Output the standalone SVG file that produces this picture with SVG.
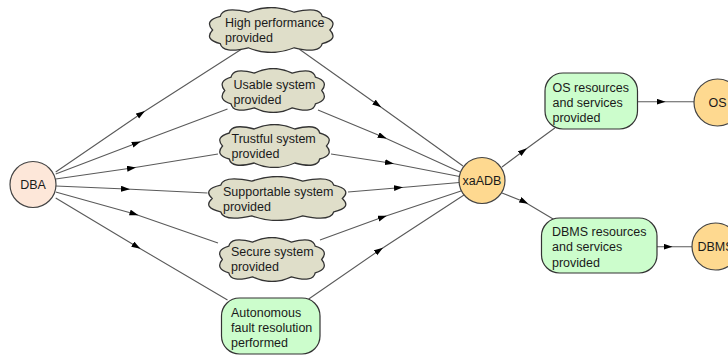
<svg xmlns="http://www.w3.org/2000/svg" xmlns:xlink="http://www.w3.org/1999/xlink" width="728" height="355" viewBox="0 0 728 355">
<style>
text{font-family:"Liberation Sans",Arial,sans-serif;font-size:12.5px;fill:#1a1a1a}
.e{fill:none;stroke:#5a5a5a;stroke-width:1.1}
.cl{fill:#dfdec9;stroke:#333;stroke-width:1.3;vector-effect:non-scaling-stroke}
.g{fill:#ccfdcc;stroke:#333;stroke-width:1.2}
.o{fill:#fed990;stroke:#444;stroke-width:1.2}
.p{fill:#fde7d9;stroke:#444;stroke-width:1.2}
.c{text-anchor:middle}
</style>
<defs>
<marker id="a" markerUnits="userSpaceOnUse" markerWidth="10" markerHeight="7" refX="5" refY="3" orient="auto"><path d="M0,0 L9,3 L0,6 z" fill="#000"/></marker>
<symbol id="cloud" viewBox="0 0 100 44" preserveAspectRatio="none">
<path class="cl" d="M4,22 Q-3,13 10,9 Q12,-1 32,5 Q50,-4 68,5 Q88,-1 90,9 Q103,13 96,22 Q103,31 90,35 Q88,45 68,39 Q50,48 32,39 Q12,45 10,35 Q-3,31 4,22 Z"/>
</symbol>
</defs>
<g id="connectors">
<polyline class="e" marker-mid="url(#a)" points="55.7,172 141.6,113.3 241.4,49.3"/>
<polyline class="e" marker-mid="url(#a)" points="55.7,174 137,143 227.5,109"/>
<polyline class="e" marker-mid="url(#a)" points="55.7,179 132,168 218,154"/>
<polyline class="e" marker-mid="url(#a)" points="55.7,186 126,189 207.5,193"/>
<polyline class="e" marker-mid="url(#a)" points="55.7,192 134.6,214 218,243"/>
<polyline class="e" marker-mid="url(#a)" points="55.7,198 137,246.7 227.5,300"/>
<polyline class="e" marker-mid="url(#a)" points="299.4,49.3 378,105 463,166"/>
<polyline class="e" marker-mid="url(#a)" points="318,110 383,137 460,172"/>
<polyline class="e" marker-mid="url(#a)" points="331,154 390,163 459.5,176.5"/>
<polyline class="e" marker-mid="url(#a)" points="348,192 399,187.7 459.5,182.5"/>
<polyline class="e" marker-mid="url(#a)" points="320,240 383,217 461,191"/>
<polyline class="e" marker-mid="url(#a)" points="308.7,299 379.7,250 464,195"/>
<polyline class="e" marker-mid="url(#a)" points="502,167 523.7,150.7 554.8,128"/>
<polyline class="e" marker-mid="url(#a)" points="502,193 524.6,202 554.8,220"/>
<polyline class="e" marker-mid="url(#a)" points="637.4,101.7 661.6,101.7 694,101.7"/>
<polyline class="e" marker-mid="url(#a)" points="657,246.7 668.5,246.7 692,246.7"/>
</g>
<g id="dba"><circle class="p" cx="33" cy="184.5" r="23"/><text class="c" x="33" y="189">DBA</text></g>
<g id="high-performance"><use xlink:href="#cloud" x="207.5" y="7" width="127.5" height="46"/><text x="225" y="26.5">High performance</text><text x="225" y="41.5">provided</text></g>
<g id="usable"><use xlink:href="#cloud" x="220.5" y="68" width="105.5" height="45"/><text x="233.5" y="88.5">Usable system</text><text x="233.5" y="103.5">provided</text></g>
<g id="trustful"><use xlink:href="#cloud" x="218" y="124" width="113" height="44"/><text x="231.5" y="142.5">Trustful system</text><text x="231.5" y="157.5">provided</text></g>
<g id="supportable"><use xlink:href="#cloud" x="206.5" y="176" width="141.5" height="45"/><text x="223" y="195.5">Supportable system</text><text x="223" y="211">provided</text></g>
<g id="secure"><use xlink:href="#cloud" x="218" y="237" width="108" height="45"/><text x="231" y="255.5">Secure system</text><text x="231" y="270.5">provided</text></g>
<g id="autonomous"><rect class="g" x="221.5" y="298" width="98.5" height="56" rx="18"/><text x="231" y="316.5">Autonomous</text><text x="231" y="331.5">fault resolution</text><text x="231" y="346.5">performed</text></g>
<g id="xaadb"><circle class="o" cx="482" cy="180.5" r="23"/><text class="c" x="482" y="185">xaADB</text></g>
<g id="os-resources"><rect class="g" x="545" y="73" width="92.5" height="56" rx="18"/><text x="552.5" y="91.5">OS resources</text><text x="552.5" y="106.5">and services</text><text x="552.5" y="121.5">provided</text></g>
<g id="dbms-resources"><rect class="g" x="541.5" y="218" width="115.5" height="55" rx="18"/><text x="552" y="235.5">DBMS resources</text><text x="552" y="251">and services</text><text x="552" y="266.5">provided</text></g>
<g id="os"><circle class="o" cx="717.5" cy="102.5" r="23.5"/><text class="c" x="717.5" y="107">OS</text></g>
<g id="dbms"><circle class="o" cx="715.5" cy="246.5" r="23.5"/><text class="c" x="715.5" y="251">DBMS</text></g>
</svg>
